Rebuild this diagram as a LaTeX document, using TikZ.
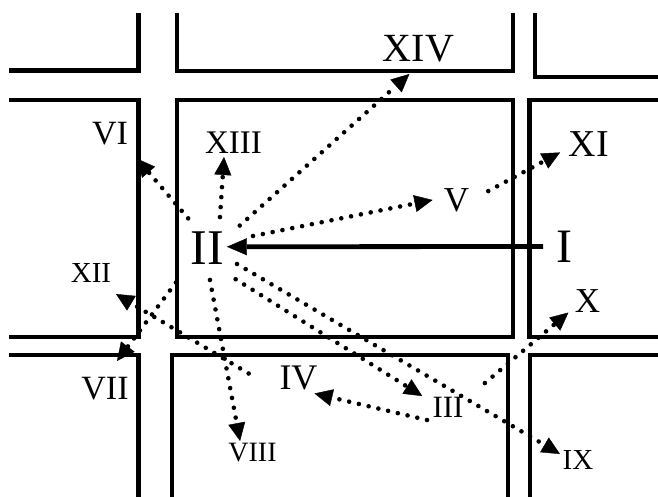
\documentclass[tikz,border=0pt]{standalone}
\usepackage{fontspec}
\setmainfont{Liberation Serif}
\usetikzlibrary{arrows.meta}
\tikzset{
  wall/.style={line width=4.5pt, line join=miter, line cap=butt},
  lab/.style={inner sep=0pt, font=\fontsize{#1}{#1}\selectfont},
  dotarrow/.style={line width=4.6pt, line cap=round, dash pattern=on 0pt off 10pt,
    -{Triangle[length=18pt,width=17pt,line width=0.4pt]}},
  solidarrow/.style={line width=4.8pt,
    -{Triangle[length=20pt,width=17pt,line width=0.4pt]}}
}
\begin{document}
\begin{tikzpicture}[x=1pt,y=-1pt]
\useasboundingbox[fill=white] (0,0) rectangle (658,497);
% city blocks
\draw[wall] (9,70.5) -- (138.5,70.5) -- (138.5,13);
\draw[wall] (177,13) -- (177,71) -- (513,71) -- (513,13);
\draw[wall] (535,13) -- (535,77) -- (658,77);
\draw[wall] (9,100) -- (138.5,100) -- (138.5,337) -- (9,337);
\draw[wall] (177,100) rectangle (513,337);
\draw[wall] (658,100) -- (529.5,100) -- (529.5,337) -- (658,337);
\draw[wall] (9,355) -- (138.5,355) -- (138.5,497);
\draw[wall] (172,497) -- (172,355) -- (508,355) -- (508,497);
\draw[wall] (658,355) -- (530,355) -- (530,497);
% labels
\node[lab=48] (rI)    at (564,246.5) {I};
\node[lab=50] (rII)   at (207,248.5) {II};
\node[lab=31] (rIII)  at (448,407)   {III};
\node[lab=36] (rIV)   at (298.5,377.5) {IV};
\node[lab=35] (rV)    at (456.5,200) {V};
\node[lab=34] (rVI)   at (110,133.5) {VI};
\node[lab=34] (rVII)  at (105,388.5) {VII};
\node[lab=28] (rVIII) at (252.5,453) {VIII};
\node[lab=29] (rIX)   at (578,460)   {IX};
\node[lab=35] (rX)    at (587.5,301.5) {X};
\node[lab=38] (rXI)   at (589,144.5) {XI};
\node[lab=29] (rXII)  at (91,273.5)  {XII};
\node[lab=33] (rXIII) at (233.5,142.5) {XIII};
\node[lab=40] (rXIV)  at (418.5,49)  {XIV};
% connectors
\draw[solidarrow] ([shift={(180:21pt)}]rI.center) -- ([shift={(5:20pt)}]rII.center);
\draw[dotarrow] ([shift={(35:40pt)}]rII.center) -- ([shift={(250:26.6pt)}]rXIV.center);
\draw[dotarrow] ([shift={(67.6:34pt)}]rII.center) -- ([shift={(236.8:17.3pt)}]rXIII.center);
\draw[dotarrow] ([shift={(122:35.5pt)}]rII.center) -- ([shift={(317:36.8pt)}]rVI.center);
\draw[dotarrow] ([shift={(15.2:47.7pt)}]rII.center) -- ([shift={(180:24pt)}]rV.center);
\draw[dotarrow] ([shift={(15.7:33pt)}]rV.center) -- ([shift={(195.4:30pt)}]rXI.center);
\draw[dotarrow] ([shift={(275.4:31.6pt)}]rII.center) -- ([shift={(136:17.3pt)}]rVIII.center);
\draw[dotarrow] ([shift={(332.7:33.8pt)}]rII.center) -- ([shift={(161.6:19pt)}]rIX.center);
\draw[dotarrow] ([shift={(313:42pt)}]rII.center) -- ([shift={(157:28pt)}]rIII.center);
\draw[dotarrow] ([shift={(211.8:24.7pt)}]rIII.center) -- ([shift={(315:22.6pt)}]rIV.center);
\draw[dotarrow] ([shift={(33:44pt)}]rIII.center) -- ([shift={(210:22pt)}]rX.center);
\draw[dotarrow] ([shift={(175.4:50pt)}]rIV.center) -- ([shift={(320.6:32.3pt)}]rXII.center);
\draw[dotarrow] ([shift={(227.6:46pt)}]rII.center) -- ([shift={(66.4:30pt)}]rVII.center);
\end{tikzpicture}
\end{document}
